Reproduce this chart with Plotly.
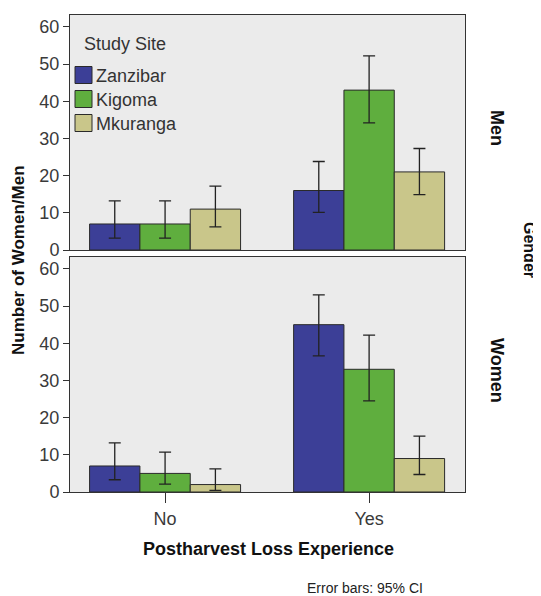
import plotly.graph_objects as go

categories = ["No", "Yes"]
sites = ["Zanzibar", "Kigoma", "Mkuranga"]
colors = ["#3C3F97", "#5FAE3E", "#C9C68A"]

# Men panel
men_values = {"Zanzibar": [7, 16], "Kigoma": [7, 43], "Mkuranga": [11, 21]}
men_upper = {"Zanzibar": [13.2, 23.8], "Kigoma": [13.2, 52.2], "Mkuranga": [17.2, 27.3]}
men_lower = {"Zanzibar": [3.2, 10.1], "Kigoma": [3.2, 34.2], "Mkuranga": [6.2, 14.9]}

# Women panel
women_values = {"Zanzibar": [7, 45], "Kigoma": [5, 33], "Mkuranga": [2, 9]}
women_upper = {"Zanzibar": [13.2, 53.0], "Kigoma": [10.7, 42.2], "Mkuranga": [6.2, 15.0]}
women_lower = {"Zanzibar": [3.3, 36.6], "Kigoma": [2.1, 24.5], "Mkuranga": [0.45, 4.7]}

OFF = 8  # page body margin
W, H = 541 - OFF, 596 - OFF
FONT = "Liberation Sans, Arial, sans-serif"


def px(p):
    return (p - OFF) / W


def py(p):
    return 1 - (p - OFF) / H


fig = go.Figure()


def add_panel(values, upper, lower, xa, ya):
    for s, c in zip(sites, colors):
        v = values[s]
        fig.add_trace(go.Bar(
            x=categories, y=v, name=s,
            marker=dict(color=c, line=dict(color="#2a2a2a", width=1)),
            error_y=dict(type="data", symmetric=False,
                         array=[u - a for u, a in zip(upper[s], v)],
                         arrayminus=[a - l for a, l in zip(v, lower[s])],
                         color="#222222", thickness=1.3, width=6),
            xaxis=xa, yaxis=ya, showlegend=False,
        ))


add_panel(men_values, men_upper, men_lower, "x2", "y2")
add_panel(women_values, women_upper, women_lower, "x", "y")

xdom = [px(70), px(465)]
axis_common = dict(showgrid=False, zeroline=False, showline=True, mirror=True,
                   linecolor="#333333", linewidth=1, automargin=False)
yax = dict(axis_common, range=[0, 63.2], tickvals=[0, 10, 20, 30, 40, 50, 60],
           ticks="outside", ticklen=6, tickcolor="#333333",
           tickfont=dict(family=FONT, size=18, color="#3a3a3a"))

fig.update_layout(
    width=W, height=H,
    margin=dict(l=0, r=0, t=0, b=0),
    paper_bgcolor="white", plot_bgcolor="#EBEBEB",
    barmode="group", bargap=0.26, bargroupgap=0,
    showlegend=False,
    xaxis=dict(axis_common, domain=xdom, anchor="y", range=[-0.466, 1.47],
               type="category", ticks="outside", ticklen=10, tickcolor="#333333",
               tickfont=dict(family=FONT, size=18, color="#3a3a3a")),
    xaxis2=dict(axis_common, domain=xdom, anchor="y2", range=[-0.466, 1.47],
                type="category", matches="x", showticklabels=False, ticks=""),
    yaxis=dict(yax, domain=[py(492), py(257)], anchor="x"),
    yaxis2=dict(yax, domain=[py(250), py(15)], anchor="x2"),
)

# Legend (drawn as shapes + text, inside the top panel)
leg_font = dict(family=FONT, size=18, color="#333333")
fig.add_annotation(text="Study Site", x=px(82), y=py(44), xref="paper", yref="paper",
                   showarrow=False, font=leg_font, xanchor="left", yanchor="middle")
for i, (s, c) in enumerate(zip(sites, colors)):
    yc = 75 + i * 24
    fig.add_shape(type="rect", xref="paper", yref="paper",
                  x0=px(75), x1=px(92), y0=py(yc - 8.5), y1=py(yc + 8.5),
                  fillcolor=c, line=dict(color="#2a2a2a", width=1))
    fig.add_annotation(text=s, x=px(94), y=py(yc + 1), xref="paper", yref="paper",
                       showarrow=False, font=leg_font, xanchor="left", yanchor="middle")

ann_font = dict(family=FONT, size=18, color="#111111")
fig.add_annotation(text="<b>Number of Women/Men</b>", x=px(18), y=py(260), xref="paper", yref="paper",
                   textangle=-90, showarrow=False, font=dict(family=FONT, size=17, color="#111111"),
                   xanchor="center", yanchor="middle")
fig.add_annotation(text="<b>Postharvest Loss Experience</b>", x=px(268), y=py(549), xref="paper", yref="paper",
                   showarrow=False, font=ann_font, xanchor="center", yanchor="middle")
fig.add_annotation(text="<b>Men</b>", x=px(497), y=py(128), xref="paper", yref="paper",
                   textangle=90, showarrow=False, font=ann_font, xanchor="center", yanchor="middle")
fig.add_annotation(text="<b>Women</b>", x=px(497), y=py(370), xref="paper", yref="paper",
                   textangle=90, showarrow=False, font=ann_font, xanchor="center", yanchor="middle")
fig.add_annotation(text="<b>Gender</b>", x=px(530), y=py(250), xref="paper", yref="paper",
                   textangle=90, showarrow=False, font=dict(family=FONT, size=16, color="#111111"),
                   xanchor="center", yanchor="middle")
fig.add_annotation(text="Error bars: 95% CI", x=px(365), y=py(588), xref="paper", yref="paper",
                   showarrow=False, font=dict(family=FONT, size=14, color="#222222"),
                   xanchor="center", yanchor="middle")

fig.write_html("out.html")
